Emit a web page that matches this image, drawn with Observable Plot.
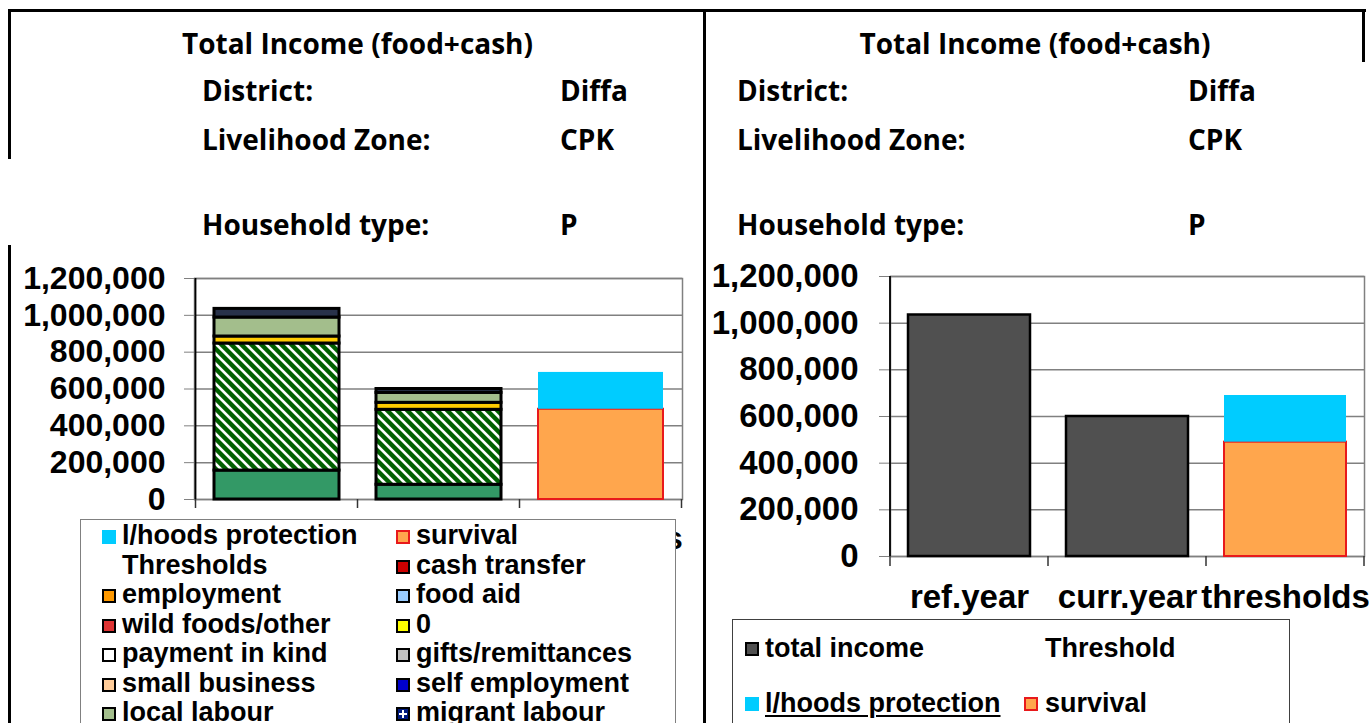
<!DOCTYPE html>
<html>
<head>
<meta charset="utf-8">
<script src="https://cdn.jsdelivr.net/npm/d3@7"></script>
<script src="https://cdn.jsdelivr.net/npm/@observablehq/plot@0.6"></script>
<style>
  html, body { margin: 0; padding: 0; background: #fff; overflow: hidden; }
  #page { position: relative; width: 1369px; height: 723px; overflow: hidden; background: #fff; }
  .hdr { position: absolute; font-family: "Open Sans", Lato, sans-serif; font-weight: 700; font-size: 28px; line-height: 28px; white-space: nowrap; color: #000; }
  .ln { position: absolute; background: #000; }
  .chart { position: absolute; }
  .legend { position: absolute; background: #fff; box-sizing: border-box; font-family: "Liberation Sans", Arial, sans-serif; font-weight: 700; color: #000; z-index: 5; }
  .item { position: absolute; white-space: nowrap; }
  .sw { position: absolute; box-sizing: border-box; width: 14px; height: 14px; border: 2px solid #000; }
</style>
</head>
<body>
<div id="page"></div>
<script>
// ---------------- data ----------------
const chartTitle = "Total Income (food+cash)";
const headerLabels = ["District:", "Livelihood Zone:", "Household type:"];
const headerValues = ["Diffa", "CPK", "P"];

const categories = ["ref.year", "curr.year", "thresholds"];
const yTicks = [0, 200000, 400000, 600000, 800000, 1000000, 1200000];

// left chart: income sources, stacked bottom to top
const sourceNames = ["crops", "livestock sales", "0", "local labour", "migrant labour"];
const refYearValues = [157000, 690000, 38000, 103000, 47000];
const currYearValues = [80000, 407000, 38000, 54000, 21000];

// thresholds
const thresholdNames = ["survival", "l/hoods protection"];
const thresholdValues = [490000, 200000];

// right chart: total income
const totalIncomeValues = [1035000, 600000];

// left legend (two columns, as visible)
const legendCol1 = ["l/hoods protection", "Thresholds", "employment", "wild foods/other", "payment in kind", "small business", "local labour"];
const legendCol2 = ["survival", "cash transfer", "food aid", "0", "gifts/remittances", "self employment", "migrant labour"];
const rightLegendRow1 = ["total income", "Threshold"];
const rightLegendRow2 = ["l/hoods protection", "survival"];

// ---------------- styles ----------------
const sourceFill = {
  "crops": "#339966",
  "livestock sales": "url(#hatchGreen)",
  "0": "#FFCC00",
  "local labour": "#A3BE8C",
  "migrant labour": "#28324A"
};
const thresholdFill = {"survival": "#FFA64D", "l/hoods protection": "#00CCFF"};
const thresholdStroke = {"survival": "#E8191B", "l/hoods protection": "none"};
const legendSwatch = {
  "l/hoods protection": {bg: "#00CCFF", bd: "none"},
  "survival": {bg: "#FFA64D", bd: "#E8191B"},
  "cash transfer": {bg: "#CC0000", bd: "#000"},
  "employment": {bg: "#FF9900", bd: "#000"},
  "food aid": {bg: "#99CCFF", bd: "#000"},
  "wild foods/other": {bg: "#DD3333", bd: "#000"},
  "0": {bg: "#FFFF00", bd: "#000"},
  "payment in kind": {bg: "#FFFFFF", bd: "#000"},
  "gifts/remittances": {bg: "#C0C0C0", bd: "#000"},
  "small business": {bg: "#FFCC99", bd: "#000"},
  "self employment": {bg: "#0000CC", bd: "#000"},
  "local labour": {bg: "#A3BE8C", bd: "#000"},
  "migrant labour": {bg: "#001A80", bd: "#000", cross: true},
  "total income": {bg: "#505050", bd: "#000"}
};

const page = document.getElementById("page");

// ---------------- header & cell borders ----------------
function addLine(x, y, w, h) {
  const d = document.createElement("div");
  d.className = "ln";
  Object.assign(d.style, {left: x + "px", top: y + "px", width: w + "px", height: h + "px"});
  page.appendChild(d);
}
addLine(8, 9, 1358, 3);      // top
addLine(8, 9, 3, 150);       // left upper
addLine(8, 245, 3, 480);     // left lower
addLine(703, 9, 3, 714);     // middle
addLine(1362, 9, 3, 53);     // right

function addText(txt, left, top, extra) {
  const d = document.createElement("div");
  d.className = "hdr";
  d.textContent = txt;
  d.style.left = left + "px";
  d.style.top = top + "px";
  if (extra) Object.assign(d.style, extra);
  page.appendChild(d);
}
const headerTops = [76, 125, 210];
[[10, 695, 202, 560], [705, 660, 737, 1188]].forEach(([px, pw, lx, vx]) => {
  addText(chartTitle, px, 29, {width: pw + "px", textAlign: "center"});
  headerLabels.forEach((t, i) => addText(t, lx, headerTops[i]));
  headerValues.forEach((t, i) => addText(t, vx, headerTops[i]));
});

// ---------------- charts ----------------
function decorate(svg, plot, tickLen, axisW) {
  const sx = plot.scale("x"), sy = plot.scale("y");
  const y0 = sy.apply(0), yTop = sy.apply(yTicks[yTicks.length - 1]);
  const sel = d3.select(svg);
  const g = sel.append("g");
  const bounds = categories.map(c => sx.apply(c) + sx.bandwidth / 2 - sx.step / 2);
  bounds.push(sx.apply(categories[categories.length - 1]) + sx.bandwidth / 2 + sx.step / 2);
  bounds.forEach(b => g.append("line").attr("x1", b).attr("x2", b).attr("y1", y0).attr("y2", y0 + tickLen)
    .attr("stroke", "#333").attr("stroke-width", 1.5));
  g.append("line").attr("x1", bounds[0]).attr("x2", bounds[0]).attr("y1", yTop).attr("y2", y0)
    .attr("stroke", "#000").attr("stroke-width", axisW);
}

// left chart rows
const leftRows = [];
[refYearValues, currYearValues].forEach((vals, i) => {
  sourceNames.forEach((s, j) => leftRows.push({cat: categories[i], source: s, value: vals[j], fill: sourceFill[s], stroke: "#000", sw: 3}));
});
thresholdNames.forEach((t, j) => leftRows.push({cat: categories[2], source: t, value: thresholdValues[j], fill: thresholdFill[t], stroke: thresholdStroke[t], sw: 2}));

const leftPlot = Plot.plot({
  width: 700, height: 300,
  marginLeft: 194, marginRight: 18, marginTop: 28, marginBottom: 51,
  style: {fontFamily: "'Liberation Sans', Arial, sans-serif", fontWeight: "bold", fontSize: "32px", background: "transparent", color: "#000", overflow: "visible"},
  x: {domain: categories, paddingInner: 0.23, paddingOuter: 0.115, label: null},
  y: {domain: [0, 1200000], label: null},
  color: {type: "identity"},
  marks: [
    Plot.gridY(yTicks, {stroke: "#808080", strokeOpacity: 1, strokeWidth: 1.5}),
    Plot.frame({stroke: "#808080", strokeWidth: 1.5}),
    Plot.barY(leftRows, {x: "cat", y: "value", fill: "fill", stroke: "stroke", strokeWidth: "sw"}),
    Plot.axisY(yTicks, {tickSize: 10, tickPadding: 19, stroke: "#808080", fill: "#000", tickFormat: d3.format(",")}),
    Plot.axisX({tickSize: 0, tickPadding: 27, fill: "#000"})
  ]
});
// hatch pattern
const defs = d3.select(leftPlot).insert("defs", ":first-child");
const pat = defs.append("pattern").attr("id", "hatchGreen").attr("patternUnits", "userSpaceOnUse")
  .attr("width", 7.07).attr("height", 7.07).attr("patternTransform", "rotate(-45)");
pat.append("rect").attr("width", 7.07).attr("height", 7.07).attr("fill", "#006000");
pat.append("rect").attr("width", 2.6).attr("height", 7.07).attr("fill", "#fff");
decorate(leftPlot, leftPlot, 9, 1.8);
const leftWrap = document.createElement("div");
leftWrap.className = "chart";
Object.assign(leftWrap.style, {left: "0px", top: "250px"});
leftWrap.appendChild(leftPlot);
page.appendChild(leftWrap);

// right chart rows
const rightRows = [];
totalIncomeValues.forEach((v, i) => rightRows.push({cat: categories[i], source: "total income", value: v, fill: "#505050", stroke: "#000", sw: 2.5}));
thresholdNames.forEach((t, j) => rightRows.push({cat: categories[2], source: t, value: thresholdValues[j], fill: thresholdFill[t], stroke: thresholdStroke[t], sw: 2}));

const rightPlot = Plot.plot({
  width: 664, height: 370,
  marginLeft: 185, marginRight: 5, marginTop: 26, marginBottom: 64,
  style: {fontFamily: "'Liberation Sans', Arial, sans-serif", fontWeight: "bold", fontSize: "33px", background: "transparent", color: "#000", overflow: "visible"},
  x: {domain: categories, paddingInner: 0.23, paddingOuter: 0.115, label: null},
  y: {domain: [0, 1200000], label: null},
  color: {type: "identity"},
  marks: [
    Plot.gridY(yTicks, {stroke: "#808080", strokeOpacity: 1, strokeWidth: 1.5}),
    Plot.frame({stroke: "#808080", strokeWidth: 1.5}),
    Plot.barY(rightRows, {x: "cat", y: "value", fill: "fill", stroke: "stroke", strokeWidth: "sw"}),
    Plot.axisY(yTicks, {tickSize: 11, tickPadding: 21, stroke: "#808080", fill: "#000", tickFormat: d3.format(",")}),
    Plot.axisX({tickSize: 0, tickPadding: 28, fill: "#000"})
  ]
});
decorate(rightPlot, rightPlot, 10, 1.8);
const rightWrap = document.createElement("div");
rightWrap.className = "chart";
Object.assign(rightWrap.style, {left: "705px", top: "250px", width: "664px", overflow: "hidden"});
rightWrap.appendChild(rightPlot);
page.appendChild(rightWrap);

// ---------------- legends ----------------
function swatch(parent, name, x, y) {
  const st = legendSwatch[name];
  const s = document.createElement("div");
  s.className = "sw";
  Object.assign(s.style, {left: x + "px", top: y + "px", background: st.bg});
  if (st.bd === "none") s.style.border = "none";
  else s.style.borderColor = st.bd;
  if (st.cross) {
    s.innerHTML = '<svg width="10" height="10" style="position:absolute;left:0;top:0"><path d="M5 1V9M1 5H9" stroke="#fff" stroke-width="2"/></svg>';
  }
  parent.appendChild(s);
}
function label(parent, txt, x, top, fs, extra) {
  const d = document.createElement("div");
  d.className = "item";
  d.textContent = txt;
  Object.assign(d.style, {left: x + "px", top: top + "px", fontSize: fs + "px", lineHeight: fs + "px"});
  if (extra) Object.assign(d.style, extra);
  parent.appendChild(d);
}

// left legend
const lg = document.createElement("div");
lg.className = "legend";
Object.assign(lg.style, {left: "80px", top: "519px", width: "596px", height: "260px", border: "1.5px solid #808080"});
page.appendChild(lg);
const rowStep = 29.5, row0 = 15; // centers relative to legend top
[[legendCol1, 21, 41], [legendCol2, 315, 335]].forEach(([items, sx, tx]) => {
  items.forEach((name, i) => {
    const cy = row0 + i * rowStep;
    if (legendSwatch[name]) swatch(lg, name, sx, cy - 5);
    label(lg, name, tx, cy - 13, 27);
  });
});

// right legend
const rg = document.createElement("div");
rg.className = "legend";
Object.assign(rg.style, {left: "732px", top: "619px", width: "558px", height: "200px", border: "1.5px solid #404040"});
page.appendChild(rg);
swatch(rg, rightLegendRow1[0], 12, 22);
label(rg, rightLegendRow1[0], 32, 15, 27);
label(rg, rightLegendRow1[1], 312, 15, 27);
swatch(rg, rightLegendRow2[0], 12, 77);
label(rg, rightLegendRow2[0], 32, 70, 27, {textDecoration: "underline", textDecorationThickness: "2px", textUnderlineOffset: "3px"});
swatch(rg, rightLegendRow2[1], 291, 77);
label(rg, rightLegendRow2[1], 312, 70, 27);
</script>
</body>
</html>
